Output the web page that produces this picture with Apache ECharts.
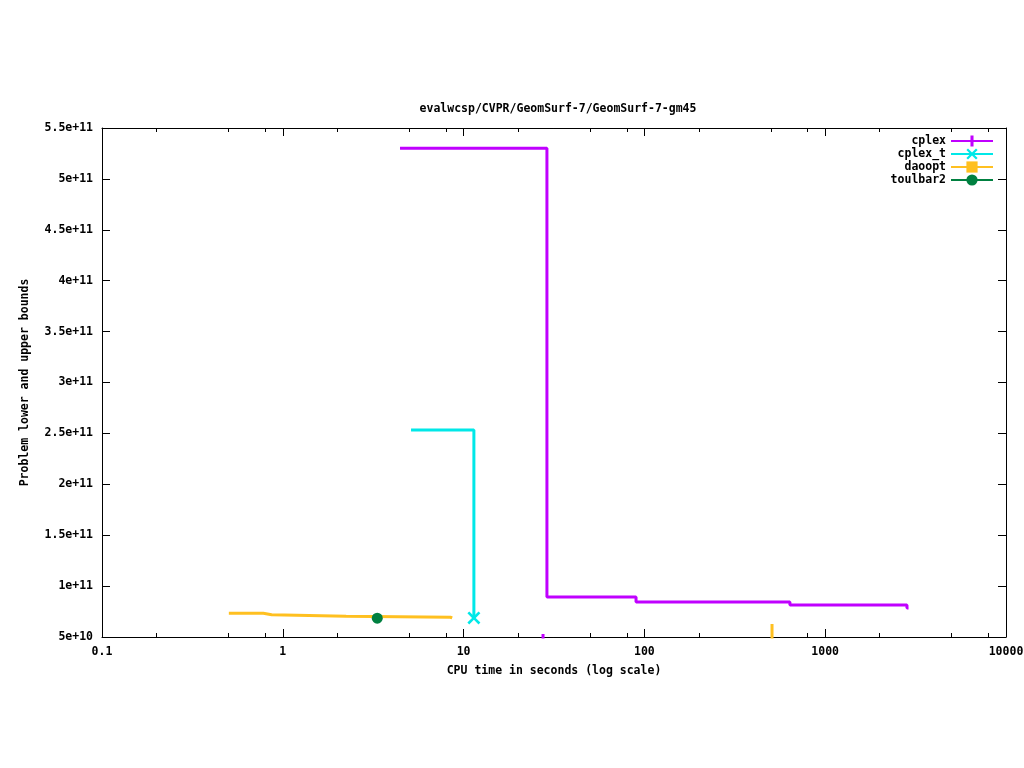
<!DOCTYPE html>
<html>
<head>
<meta charset="utf-8">
<title>GeomSurf-7-gm45</title>
<script src="https://cdn.jsdelivr.net/npm/echarts@6/dist/echarts.min.js"></script>
<style>
  html, body { margin: 0; padding: 0; background: #fff; }
  #chart { width: 1024px; height: 768px; }
</style>
</head>
<body>
<div id="chart"></div>
<script>
// 数据：时间（秒）与上界
const cplexTime = [4.45, 28.9, 89.9, 638, 2833, 2890];
const cplexBound = [5.30e11, 8.93e10, 8.44e10, 8.14e10, 7.85e10, 7.85e10];

const cplexTTime = [5.12, 11.4];
const cplexTBound = [2.533e11, 6.87e10];

const daooptTime = [0.503, 0.78, 0.868, 2.24, 8.45, 8.65];
const daooptBound = [7.33e10, 7.19e10, 7.03e10, 6.94e10, 6.87e10, 6.87e10];

const toulbarTime = [3.33];
const toulbarBound = [6.85e10];

// 下界（只露出一小段）
const cplexLowerTime = [27.5, 27.5];
const cplexLowerBound = [4.0e10, 5.3e10];
const daooptLowerTime = [508, 508];
const daooptLowerBound = [4.0e10, 6.28e10];

const xMinorTicks = [0.2, 0.5, 0.8, 2, 5, 8, 20, 50, 80, 200, 500, 800, 2000, 5000, 8000];

const FONT = 'DejaVu Sans Mono';
const FS = 11.5;

// 只在最后一个点画标记
function toData(xs, ys, markLast) {
  return xs.map(function (x, i) {
    const item = { value: [x, ys[i]] };
    if (!(markLast && i === xs.length - 1)) item.symbol = 'none';
    return item;
  });
}

function sciLabel(v) {
  const exp = Math.floor(Math.log10(v) + 1e-9);
  const mant = parseFloat((v / Math.pow(10, exp)).toFixed(2));
  return mant + 'e+' + exp;
}

const PLUS = 'path://M4,0H7V14H4Z M0,6H11V8H0Z';
const CROSS = 'path://M0,2L2,0L7,5L12,0L14,2L9,7L14,12L12,14L7,9L2,14L0,12L5,7Z';

const chart = echarts.init(document.getElementById('chart'));

const textBase = { fontFamily: FONT, fontSize: FS, fontWeight: 'bold', color: '#000' };
const tickBase = { inside: true, length: 8, lineStyle: { color: '#000' } };
const lineBase = { show: true, lineStyle: { color: '#000', width: 1 } };

const option = {
  animation: false,
  backgroundColor: '#fff',
  title: {
    text: 'evalwcsp/CVPR/GeomSurf-7/GeomSurf-7-gm45',
    left: 553,
    textAlign: 'center',
    top: 98,
    textStyle: textBase
  },
  grid: { left: 102, right: 18, top: 128, bottom: 131, outerBoundsMode: 'none' },
  legend: {
    orient: 'vertical',
    right: 30,
    top: 135,
    padding: 0,
    align: 'right',
    itemWidth: 42,
    itemHeight: 14,
    itemGap: 1,
    data: ['cplex', 'cplex_t', 'daoopt', 'toulbar2'],
    textStyle: textBase
  },
  xAxis: [
    {
      type: 'log', logBase: 10, min: 0.1, max: 10000, position: 'bottom',
      name: 'CPU time in seconds (log scale)', nameLocation: 'middle', nameGap: 28,
      nameTextStyle: textBase,
      axisLine: lineBase, axisTick: tickBase, splitLine: { show: false },
      axisLabel: Object.assign({ margin: 9, formatter: function (v) { return String(v); } }, textBase)
    },
    {
      type: 'log', logBase: 10, min: 0.1, max: 10000, position: 'bottom',
      axisLine: { show: false }, axisLabel: { show: false }, splitLine: { show: false },
      axisTick: { inside: true, length: 4, lineStyle: { color: '#000' }, customValues: xMinorTicks }
    },
    {
      type: 'log', logBase: 10, min: 0.1, max: 10000, position: 'top',
      axisLine: lineBase, axisTick: tickBase, axisLabel: { show: false }, splitLine: { show: false }
    },
    {
      type: 'log', logBase: 10, min: 0.1, max: 10000, position: 'top',
      axisLine: { show: false }, axisLabel: { show: false }, splitLine: { show: false },
      axisTick: { inside: true, length: 4, lineStyle: { color: '#000' }, customValues: xMinorTicks }
    }
  ],
  yAxis: [
    {
      type: 'value', min: 5e10, max: 5.5e11, interval: 5e10, position: 'left',
      name: 'Problem lower and upper bounds', nameLocation: 'middle', nameGap: 71,
      nameTextStyle: textBase,
      axisLine: lineBase, axisTick: tickBase, splitLine: { show: false },
      axisLabel: Object.assign({ margin: 9, formatter: sciLabel }, textBase)
    },
    {
      type: 'value', min: 5e10, max: 5.5e11, interval: 5e10, position: 'right',
      axisLine: lineBase, axisTick: tickBase, axisLabel: { show: false }, splitLine: { show: false }
    }
  ],
  series: [
    {
      name: 'cplex', type: 'line', step: 'end', symbol: PLUS, symbolSize: 12,
      color: '#c000ff', lineStyle: { width: 3 },
      data: toData(cplexTime, cplexBound, false)
    },
    {
      name: 'cplex_t', type: 'line', step: 'end', symbol: CROSS, symbolSize: 13,
      color: '#00e8e8', lineStyle: { width: 3 },
      data: toData(cplexTTime, cplexTBound, true)
    },
    {
      name: 'daoopt', type: 'line', step: 'end', symbol: 'rect', symbolSize: 12,
      color: '#ffc020', lineStyle: { width: 3 },
      data: toData(daooptTime, daooptBound, false)
    },
    {
      name: 'toulbar2', type: 'line', symbol: 'circle', symbolSize: 11,
      color: '#008040', lineStyle: { width: 3 },
      data: toData(toulbarTime, toulbarBound, true)
    },
    {
      name: 'cplex lb', type: 'line', symbol: 'none', color: '#c000ff', lineStyle: { width: 3 },
      data: toData(cplexLowerTime, cplexLowerBound, false)
    },
    {
      name: 'daoopt lb', type: 'line', symbol: 'none', color: '#ffc020', lineStyle: { width: 3 },
      data: toData(daooptLowerTime, daooptLowerBound, false)
    }
  ]
};

chart.setOption(option);
</script>
</body>
</html>
